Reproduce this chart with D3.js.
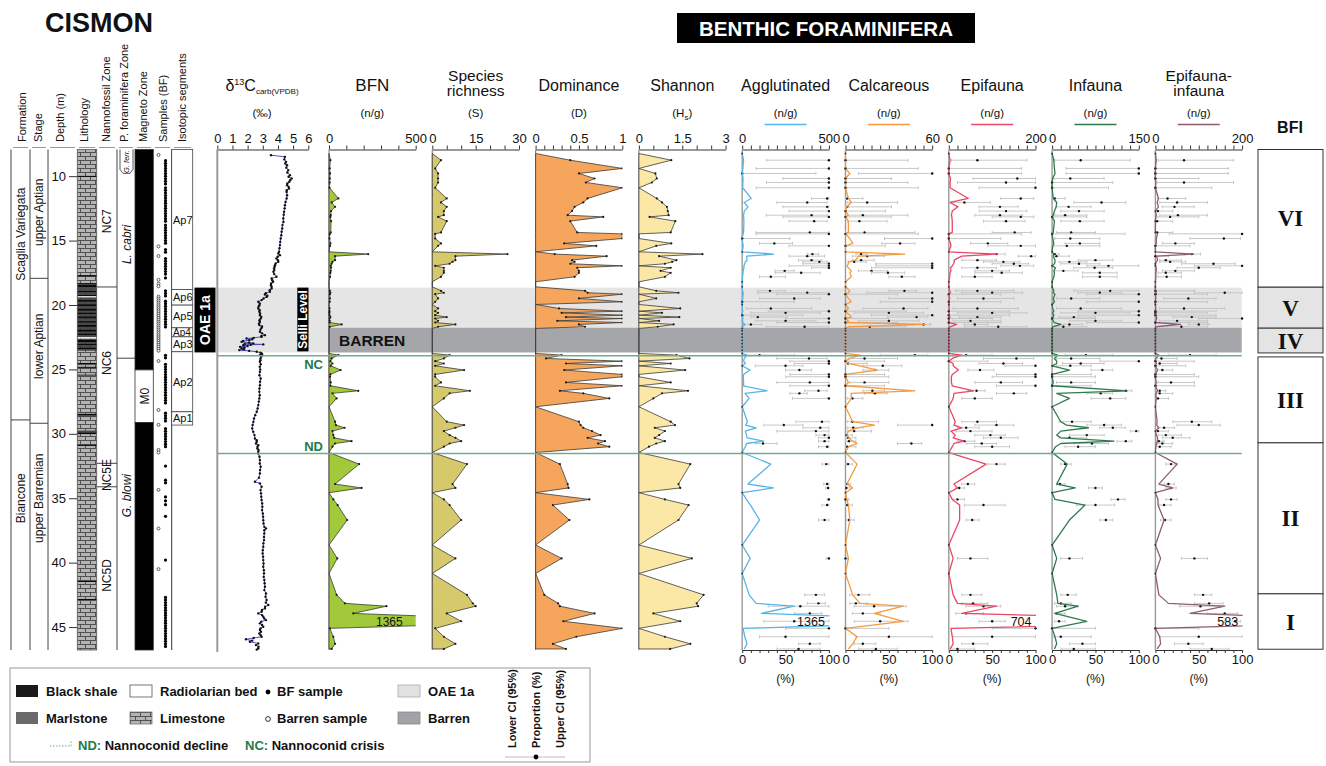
<!DOCTYPE html>
<html>
<head>
<meta charset="utf-8">
<title>Cismon – benthic foraminifera</title>
<script src="https://cdn.jsdelivr.net/npm/d3@7/dist/d3.min.js"></script>
<style>
  html, body { margin: 0; padding: 0; background: #fff; }
  svg { display: block; }
  text { font-family: Arial, "Liberation Sans", Helvetica, sans-serif; }
</style>
</head>
<body>
<svg id="chart" width="1326" height="766"></svg>
<script>
// ================= DATA =================
// BF sample depths (m) and the diversity indices measured on each sample (0 = barren)
const sampleDepth = [
  8.24, 8.76, 9.40, 9.79, 10.18, 10.49, 10.90, 11.73, 12.04, 12.38,
  12.71, 13.03, 13.16, 13.49, 14.37, 14.48, 14.84, 15.22, 15.41, 15.87,
  16.05, 16.21, 16.52, 16.65, 16.80, 16.96, 17.11, 17.35, 17.50, 17.81,
  18.20, 18.59, 18.90, 19.05, 19.16, 19.49, 19.75, 19.96, 20.27, 20.48,
  20.61, 20.79, 20.94, 21.05, 21.23, 21.36, 21.51, 21.69, 21.82, 22.00,
  22.25, 22.50, 22.75, 23.00, 23.25, 23.50, 23.76, 23.89, 24.15, 24.36,
  24.54, 24.72, 25.05, 25.39, 25.57, 26.01, 26.27, 26.66, 26.86, 27.25,
  27.90, 29.06, 29.32, 29.53, 29.79, 30.10, 30.31, 30.57, 30.75, 31.00,
  31.45, 32.35, 33.90, 34.20, 34.57, 35.09, 35.53, 36.69, 38.63, 39.67,
  40.84, 42.50, 43.16, 43.38, 43.94, 44.55, 45.10, 45.75, 46.30, 46.70];
const bfn = [
  0, 8, 4, 6, 5, 4, 3, 54, 15, 35,
  12, 10, 8, 12, 10, 5, 3, 8, 6, 0,
  226, 35, 35, 20, 15, 10, 12, 10, 8, 6,
  0, 0, 5, 8, 5, 5, 4, 0, 3, 3,
  2, 3, 8, 3, 4, 4, 73, 5, 0, 0,
  0, 0, 0, 0, 0, 0, 0, 54, 15, 8,
  20, 10, 67, 8, 6, 10, 8, 169, 20, 44,
  0, 35, 40, 90, 20, 25, 30, 130, 35, 20,
  0, 174, 35, 188, 0, 25, 50, 105, 0, 48,
  0, 44, 92, 331, 140, 1365, 5, 25, 35, 15];
const richness = [
  0, 3, 1, 2, 2, 2, 1, 5, 3, 5,
  4, 4, 2, 5, 3, 1, 1, 3, 2, 0,
  26, 8, 8, 7, 6, 1, 4, 4, 4, 3,
  0, 0, 3, 4, 1, 2, 1, 0, 2, 1,
  2, 1, 5, 1, 2, 1, 8, 2, 0, 0,
  0, 0, 0, 0, 0, 0, 0, 6, 4, 1,
  4, 1, 11, 1, 1, 3, 1, 13, 6, 4,
  0, 5, 11, 8, 4, 6, 8, 10, 6, 4,
  0, 12, 7, 8, 0, 4, 6, 10, 0, 8,
  0, 12, 14, 15, 5, 10, 1, 4, 8, 4];
const dominance = [
  0, 0.40, 1, 0.50, 0.68, 0.58, 1, 0.60, 0.55, 0.45,
  0.42, 0.37, 0.78, 0.40, 0.48, 1, 1, 0.33, 0.70, 0,
  0.22, 0.82, 0.42, 0.45, 0.40, 1, 0.48, 0.50, 0.50, 0.45,
  0, 0, 0.57, 0.60, 1, 0.50, 1, 0, 0.27, 1,
  0.30, 1, 0.35, 1, 0.25, 1, 0.50, 0.57, 0, 0,
  0, 0, 0, 0, 0, 0, 0, 0.30, 0.12, 1,
  0.35, 1, 0.33, 1, 1, 0.35, 1, 0.28, 0.55, 0.85,
  0, 0.50, 0.52, 0.55, 0.65, 0.75, 0.60, 0.80, 0.72, 0.85,
  0, 0.28, 0.37, 0.38, 0, 0.62, 0.20, 0.39, 0, 0.30,
  0, 0.10, 0.26, 0.28, 0.68, 0.32, 1, 0.47, 0.20, 0.35];
const shannon = [
  0, 1.12, 0, 0.57, 0.62, 0.45, 0, 0.62, 0.80, 0.97,
  1.00, 1.03, 0.37, 1.26, 1.10, 0, 0, 1.12, 0.60, 0,
  2.20, 0.70, 1.30, 1.15, 0.90, 0, 1.10, 0.75, 1.10, 0.90,
  0, 0, 0.60, 1.37, 0, 0.60, 0, 0, 1.43, 0,
  0.80, 0, 1.40, 0, 0.70, 0, 1.20, 0.65, 0, 0,
  0, 0, 0, 0, 0, 0, 0, 1.30, 1.75, 0,
  1.10, 0, 1.60, 0, 0, 1.10, 0, 1.70, 0.80, 0.50,
  0, 1.10, 1.25, 0.55, 0.90, 0.70, 0.55, 0.90, 0.60, 0.35,
  0, 1.78, 1.37, 1.43, 0, 0.90, 1.72, 1.37, 0, 1.83,
  0, 2.24, 2.00, 2.05, 0.50, 1.43, 0, 0.90, 1.78, 1.08];

// Abundances of the ecological groups (n/g), same samples
const agglutinatedN = [
  0, 8, 4, 1, 5, 4, 3, 52, 11, 34,
  12, 8, 8, 10, 8, 5, 0, 3, 6, 0,
  181, 26, 28, 18, 15, 10, 10, 6, 5, 2,
  0, 0, 2, 6, 5, 3, 0, 0, 1, 3,
  1, 0, 4, 3, 2, 4, 15, 3, 0, 0,
  0, 0, 0, 0, 0, 0, 0, 25, 12, 8,
  18, 0, 45, 8, 6, 8, 8, 143, 16, 40,
  0, 30, 20, 80, 18, 25, 28, 124, 25, 18,
  0, 165, 33, 180, 0, 24, 48, 100, 0, 46,
  0, 40, 80, 300, 110, 1365, 5, 15, 28, 12];
const calcareousN = [
  0, 0, 0, 3, 0, 0, 0, 2, 4, 1,
  0, 2, 0, 2, 2, 0, 3, 5, 0, 0,
  41, 9, 7, 2, 2, 1, 2, 4, 3, 4,
  0, 0, 3, 2, 0, 2, 4, 0, 2, 0,
  1, 3, 4, 0, 2, 0, 55, 2, 0, 0,
  0, 0, 0, 0, 0, 0, 0, 10, 3, 0,
  2, 10, 22, 0, 0, 2, 0, 48, 4, 4,
  0, 5, 20, 8, 2, 1, 2, 5, 8, 2,
  0, 8, 1, 5, 0, 1, 2, 3, 0, 2,
  0, 5, 10, 40, 20, 40, 0, 8, 5, 2];
const epifaunaN = [
  0, 3, 0, 0, 4, 3, 3, 45, 3, 21,
  8, 6, 7, 8, 8, 0, 0, 4, 5, 0,
  110, 30, 12, 13, 11, 8, 4, 5, 3, 2,
  0, 0, 2, 4, 0, 2, 0, 0, 1, 0,
  1, 0, 3, 0, 1, 0, 18, 3, 0, 0,
  0, 0, 0, 0, 0, 0, 0, 30, 8, 0,
  10, 10, 22, 8, 6, 6, 8, 57, 12, 10,
  0, 15, 12, 30, 5, 15, 10, 35, 12, 8,
  0, 86, 12, 20, 0, 8, 25, 25, 0, 10,
  0, 10, 20, 110, 30, 704, 5, 8, 10, 3];
const infaunaN = [
  0, 3, 4, 5, 1, 0, 0, 2, 8, 7,
  4, 2, 0, 4, 2, 0, 1, 3, 1, 0,
  3, 2, 5, 5, 4, 0, 6, 3, 4, 3,
  0, 0, 3, 2, 5, 2, 4, 0, 1, 3,
  1, 3, 2, 0, 2, 4, 15, 1, 0, 0,
  0, 0, 0, 0, 0, 0, 0, 10, 4, 8,
  8, 0, 30, 0, 0, 2, 0, 130, 8, 30,
  0, 15, 25, 63, 15, 8, 15, 107, 15, 6,
  0, 26, 8, 40, 0, 5, 57, 30, 0, 8,
  0, 8, 10, 45, 5, 60, 0, 5, 8, 4];
const epiInfaunaN = [
  0, 2, 0, 0, 0, 1, 0, 7, 4, 7,
  0, 2, 1, 0, 0, 5, 2, 2, 0, 0,
  88, 3, 5, 2, 0, 0, 2, 2, 1, 1,
  0, 0, 0, 2, 0, 1, 0, 0, 1, 0,
  0, 0, 3, 3, 1, 0, 58, 1, 0, 0,
  0, 0, 0, 0, 0, 0, 0, 8, 1, 0,
  2, 0, 5, 0, 0, 2, 0, 5, 1, 2,
  0, 4, 3, 8, 0, 2, 5, 5, 3, 1,
  0, 50, 8, 40, 0, 6, 6, 20, 0, 12,
  0, 8, 30, 160, 80, 583, 0, 10, 12, 4];

// Proportions (%) as [proportion, lower CI 95%, upper CI 95%]; null = barren sample
const N = null;
const agglutinatedPct = [
  N, [100,28,100], [100,16,100], [0,0,85], [100,47,100], [100,28,100], [100,16,100], [98,80,100], [75,40,98], [98,47,100],
  [100,54,100], [80,28,98], [100,47,100], [83,54,98], [78,16,100], [100,16,100], [0,0,55], [37,20,58], [100,54,100], N,
  [81,75,88], [75,54,95], [80,65,92], [89,70,98], [100,70,100], [100,54,100], [100,80,100], [49,38,60], [68,38,90], [33,20,50],
  N, N, [32,18,50], [75,18,100], [100,40,100], [60,20,90], [0,0,60], N, [33,5,80], [100,30,100],
  [50,10,90], [0,0,70], [18,10,52], [100,50,100], [50,15,85], [100,40,100], [10,2,22], [72,28,100], N, N,
  N, N, N, N, N, N, N, [20,5,60], [77,40,98], [100,55,100],
  [100,60,100], [50,15,70], [66,50,80], [100,55,100], [100,50,100], [78,40,100], [100,55,100], [88,72,98], [66,55,75], [100,58,100],
  N, [92,62,100], [48,25,70], [90,70,100], [85,40,100], [95,85,100], [100,88,100], [95,88,100], [24,15,40], [98,88,100],
  N, [97,92,100], [98,94,100], [99,96,100], N, [100,98,100], [98,92,100], [95,88,100], N, [100,97,100],
  N, [85,72,95], [88,75,96], [67,30,100], [78,60,92], [60,25,100], [100,50,100], [50,20,100], [78,65,90], [65,40,90]];
const calcareousPct = [
  N, [0,0,72], [0,0,84], [100,15,100], [0,0,53], [0,0,72], [0,0,84], [2,0,20], [25,2,60], [2,0,53],
  [0,0,46], [20,2,72], [0,0,53], [16,2,48], [22,0,80], [0,0,84], [100,45,100], [63,42,80], [0,0,46], N,
  [18,12,25], [25,8,45], [18,8,33], [10,3,24], [100,35,100], [100,35,100], [100,30,100], [30,15,48], [49,30,68], [65,50,80],
  N, N, [68,50,82], [100,25,100], [0,0,60], [100,50,100], [100,40,100], N, [67,20,95], [0,0,70],
  [50,10,90], [100,30,100], [82,48,95], [0,0,50], [50,15,85], [0,0,60], [90,78,98], [28,5,70], N, N,
  N, N, N, N, N, N, N, [80,40,95], [22,3,60], [0,0,45],
  [3,0,25], [43,20,65], [34,20,50], [0,0,45], [0,0,50], [22,5,50], [0,0,45], [31,20,45], [34,22,48], [8,2,20],
  N, [8,2,38], [100,60,100], [9,2,20], [10,2,30], [1,0,8], [3,0,12], [4,0,12], [76,60,88], [2,0,12],
  N, [3,1,8], [2,0,6], [1,0,5], N, [0,0,4], [2,0,8], [4,1,10], N, [0,0,3],
  N, [15,5,28], [12,5,25], [33,10,70], [20,8,40], [40,10,72], [0,0,50], [50,12,100], [20,10,35], [35,15,60]];
const epifaunaPct = [
  N, [33,3,90], [0,0,84], [0,0,84], [79,28,100], [66,10,100], [100,35,100], [83,60,98], [18,3,48], [59,35,80],
  [66,35,90], [59,30,85], [83,50,98], [66,40,88], [76,50,95], [0,0,84], [0,0,60], [45,25,68], [83,45,100], N,
  [55,45,65], [95,80,100], [33,15,55], [63,40,82], [75,50,92], [82,60,98], [33,15,55], [50,30,70], [61,30,85], [30,15,50],
  N, N, [33,8,75], [50,15,85], [0,0,60], [40,10,75], [0,0,60], N, [33,5,80], [0,0,70],
  [50,10,90], [0,0,70], [33,12,60], [0,0,50], [25,5,60], [0,0,60], [30,18,45], [57,18,90], N, N,
  N, N, N, N, N, N, N, [20,5,50], [78,40,98], [0,0,45],
  [63,35,85], [100,65,100], [36,22,52], [100,55,100], [100,50,100], [60,30,85], [100,55,100], [32,22,42], [75,55,90], [30,15,50],
  N, [33,15,55], [55,30,75], [20,10,35], [25,8,50], [48,30,65], [60,40,80], [18,10,30], [38,20,55], [50,30,70],
  N, [55,45,65], [22,15,30], [12,8,18], N, [10,5,18], [40,18,65], [27,20,35], N, [25,10,45],
  N, [25,15,38], [28,15,45], [40,20,60], [20,8,40], [50,35,65], [100,50,100], [50,5,100], [28,15,45], [10,2,30]];
const infaunaPct = [
  N, [33,3,90], [100,16,100], [100,16,100], [21,2,60], [0,0,70], [0,0,65], [3,0,15], [57,25,85], [19,5,45],
  [31,10,60], [15,3,40], [0,0,40], [32,10,60], [22,5,50], [0,0,84], [21,3,55], [32,15,55], [17,2,55], N,
  [3,1,8], [5,0,20], [50,30,70], [20,8,40], [31,10,55], [65,40,100], [49,25,70], [13,3,30], [55,35,75], [55,35,75],
  N, N, [67,25,100], [55,30,80], [100,40,100], [22,5,55], [100,40,100], N, [33,5,80], [100,30,100],
  [50,10,90], [100,30,100], [25,8,50], [0,0,50], [50,20,80], [100,40,100], [20,10,35], [13,3,40], N, N,
  N, N, N, N, N, N, N, [39,15,70], [22,5,55], [100,55,100],
  [33,12,60], [21,5,45], [58,45,70], [0,0,45], [0,0,50], [22,5,50], [0,0,45], [85,75,92], [56,40,70], [67,45,85],
  N, [23,8,45], [60,40,80], [70,55,85], [97,90,100], [40,20,60], [20,8,40], [85,75,92], [46,25,65], [30,15,50],
  N, [15,10,22], [9,5,15], [50,42,58], N, [76,68,84], [50,28,72], [62,55,70], N, [20,10,35],
  N, [18,10,28], [10,3,22], [15,5,30], [5,0,15], [8,3,15], [0,0,50], [10,2,45], [35,20,50], [25,10,50]];
const epiInfaunaPct = [
  N, [33,3,90], [0,0,84], [0,0,84], [0,0,50], [33,2,90], [0,0,65], [14,3,35], [25,5,60], [22,8,45],
  [3,0,20], [26,5,60], [17,2,50], [2,0,20], [2,0,20], [100,16,100], [79,40,98], [23,8,45], [0,0,40], N,
  [42,33,52], [0,0,15], [12,5,30], [17,5,35], [67,30,92], [100,45,100], [50,25,75], [23,8,45], [12,3,30], [13,3,30],
  N, N, [0,0,45], [80,45,100], [0,0,60], [38,10,70], [0,0,60], N, [33,5,80], [0,0,70],
  [0,0,60], [0,0,70], [42,20,70], [100,50,100], [25,5,60], [0,0,60], [50,38,62], [30,8,60], N, N,
  N, N, N, N, N, N, N, [40,15,70], [7,0,25], [0,0,45],
  [5,0,25], [0,0,35], [8,2,20], [0,0,45], [0,0,50], [18,3,45], [0,0,45], [5,2,12], [5,0,20], [3,0,15],
  N, [42,20,65], [50,25,75], [10,3,22], [3,0,15], [12,3,30], [20,8,40], [4,1,10], [8,2,20], [5,0,18],
  N, [18,12,25], [15,10,22], [18,12,24], N, [18,12,25], [10,5,18], [11,6,18], N, [45,30,60],
  N, [55,45,65], [62,45,78], [52,28,75], [80,60,95], [92,80,98], [0,0,50], [50,5,100], [38,22,55], [65,40,85]];

// Bulk-carbonate carbon isotopes: depth (m) and δ13C (‰ VPDB)
const c13Depth = [
  8.37, 8.50, 8.70, 8.89, 9.02, 9.15, 9.34, 9.53, 9.72, 9.92, 10.05, 10.18, 10.31, 10.44, 10.57, 10.70, 10.83, 10.96,
  11.09, 11.22, 11.48, 11.73, 12.00, 12.25, 12.50, 12.77, 13.00, 13.28, 13.55, 13.80, 14.06, 14.32, 14.58, 14.84,
  15.10, 15.35, 15.60, 15.87, 16.00, 16.13, 16.26, 16.39, 16.52, 16.65, 16.78, 16.91, 17.04, 17.16, 17.29, 17.42,
  17.60, 17.81, 17.94, 18.07, 18.20, 18.33, 18.46, 18.59, 18.72, 18.85, 18.98, 19.08, 19.18, 19.28, 19.37, 19.50,
  19.62, 19.75, 19.88, 20.01, 20.14, 20.27, 20.40, 20.53, 20.66, 20.79, 20.92, 21.05, 21.18, 21.31, 21.44, 21.56,
  21.67, 21.77, 21.90, 22.08, 22.20, 22.34, 22.42, 22.47, 22.55, 22.60, 22.66, 22.73, 22.80, 22.86, 22.92, 22.98,
  23.02, 23.06, 23.09, 23.12, 23.18, 23.25, 23.31, 23.37, 23.44, 23.50, 23.56, 23.63, 23.70, 23.76, 23.82, 23.89,
  24.00, 24.15, 24.28, 24.41, 24.60, 24.80, 25.00, 25.19, 25.45, 25.70, 25.96, 26.22, 26.48, 26.74, 27.00, 27.25,
  27.50, 27.77, 28.03, 28.29, 28.55, 28.81, 29.07, 29.32, 29.58, 29.84, 30.10, 30.36, 30.49, 30.62, 30.75, 30.88,
  31.00, 31.13, 31.26, 31.39, 31.52, 31.78, 32.04, 32.30, 32.56, 32.80, 33.07, 33.40, 33.72, 33.85, 34.11, 34.37,
  34.62, 34.88, 35.14, 35.40, 35.66, 35.92, 36.18, 36.44, 36.70, 36.96, 37.22, 37.34, 37.48, 37.73, 38.00, 38.25,
  38.50, 38.77, 39.03, 39.28, 39.54, 39.80, 40.06, 40.32, 40.58, 40.83, 41.10, 41.35, 41.60, 41.87, 42.13, 42.39,
  42.65, 42.90, 43.10, 43.29, 43.42, 43.55, 43.68, 43.81, 43.94, 44.07, 44.20, 44.33, 44.46, 44.58, 44.71, 44.84,
  44.97, 45.10, 45.23, 45.36, 45.49, 45.62, 45.75, 45.85, 45.95, 46.05, 46.14, 46.27, 46.40, 46.53, 46.66, 46.75];
const c13Value = [
  3.54, 4.46, 4.42, 4.53, 4.48, 4.60, 4.55, 4.68, 4.62, 4.79, 4.70, 4.90, 4.80, 4.75, 4.62, 4.60, 4.70, 4.73,
  4.58, 4.57, 4.60, 4.57, 4.50, 4.46, 4.44, 4.40, 4.38, 4.35, 4.36, 4.30, 4.28, 4.24, 4.22, 4.18,
  4.15, 4.13, 4.10, 4.07, 4.02, 4.13, 3.98, 3.90, 4.00, 4.02, 3.85, 3.80, 3.78, 3.74, 3.76, 3.70,
  3.75, 3.90, 3.58, 3.62, 3.68, 3.55, 3.54, 3.58, 3.58, 3.45, 3.47, 3.20, 3.14, 3.30, 3.25, 3.05,
  2.92, 2.70, 2.80, 2.78, 2.72, 2.70, 2.80, 2.77, 2.82, 2.81, 2.90, 2.86, 2.78, 2.81, 2.75, 2.77,
  2.95, 2.92, 2.85, 2.81, 2.95, 3.14, 2.90, 2.92, 2.40, 1.93, 2.30, 2.10, 1.70, 1.60, 2.10, 2.37,
  1.80, 3.03, 2.20, 1.71, 2.00, 1.50, 1.80, 1.60, 1.75, 1.45, 2.10, 2.60, 2.85, 2.92, 2.95, 2.81,
  2.90, 2.85, 2.84, 2.81, 2.86, 2.80, 2.83, 2.81, 2.78, 2.86, 2.82, 2.81, 2.78, 2.77, 2.80, 2.77,
  2.74, 2.70, 2.66, 2.60, 2.50, 2.42, 2.38, 2.33, 2.30, 2.37, 2.45, 2.48, 2.60, 2.60, 2.55, 2.70,
  2.65, 2.64, 2.72, 2.70, 2.70, 2.78, 2.81, 2.80, 2.86, 2.82, 2.81, 2.75, 2.48, 2.81, 2.92, 2.85,
  2.88, 2.90, 2.92, 2.96, 2.97, 2.95, 3.00, 3.02, 3.03, 3.05, 3.10, 3.21, 3.10, 3.10, 3.08, 3.08,
  3.04, 3.03, 3.00, 2.99, 3.02, 3.03, 3.05, 3.03, 3.07, 3.08, 3.06, 3.10, 3.12, 3.14, 3.10, 3.21,
  3.18, 3.25, 3.20, 3.36, 3.15, 3.14, 2.95, 2.92, 2.70, 2.95, 3.03, 3.10, 3.21, 2.90, 2.81, 2.95,
  3.03, 2.85, 2.81, 2.88, 2.77, 2.85, 2.92, 2.40, 1.89, 2.30, 2.15, 2.70, 2.55, 2.72, 2.70, 2.60];

// Samples column: productive (BF) and barren samples
const bfSampleDepth = [
  8.8, 9.0, 9.2, 9.4, 9.6, 9.8, 10.0, 10.2, 10.4, 10.6, 10.9, 11.1, 11.3, 11.5, 11.7, 11.9, 12.1, 12.3, 12.5, 12.7,
  12.9, 13.1, 13.3, 13.5, 13.8, 14.0, 14.2, 14.4, 14.6, 14.8, 15.0, 15.2, 15.7, 15.9, 16.4, 16.6, 16.8, 17.0, 17.2,
  17.4, 17.6, 17.9, 18.9, 19.1, 19.3, 19.7, 19.9, 20.1, 20.3, 20.5, 20.7, 20.9, 21.1, 21.3, 21.5, 21.7, 23.9, 24.1,
  24.6, 24.8, 25.0, 25.2, 25.4, 25.6, 25.8, 26.0, 26.2, 26.4, 26.6, 26.8, 27.0, 27.2, 27.4, 27.6, 28.4, 28.6, 28.8,
  29.0, 29.6, 29.8, 30.0, 30.2, 30.4, 30.6, 30.8, 31.0, 32.5, 33.6, 33.8, 34.9, 35.2, 35.5, 36.4, 39.8, 42.7, 42.9,
  43.1, 43.3, 43.5, 43.7, 43.9, 44.1, 44.3, 44.5, 44.7, 44.9, 45.1, 45.3, 45.5, 45.7, 45.9, 46.1, 46.3, 46.5];
const barrenSampleDepth = [
  8.35, 15.45, 16.2, 18.05, 18.35, 18.55, 19.35, 19.5, 19.65, 19.8, 19.95, 20.1, 20.25, 20.4, 20.55, 20.7, 20.85,
  21.0, 21.15, 21.3, 21.45, 21.6, 21.75, 21.9, 22.05, 22.2, 22.35, 22.5, 22.65, 22.8, 22.95, 23.1, 23.25, 23.4,
  23.55, 24.35, 28.15, 29.3, 31.25, 31.45, 34.35, 37.35, 40.5];

// Lithology beds [top, base] (m)
const blackShaleBeds = [[9.98,10.06],[17.68,17.78],[18.3,18.36],[18.45,18.62],[18.9,19.0],[19.2,19.3],[19.6,19.75],
  [19.95,20.08],[20.3,20.45],[20.6,20.72],[20.9,21.05],[21.25,21.38],[21.55,21.7],[21.9,22.08],[22.2,22.35],[22.7,22.88],
  [23.0,23.12],[23.3,23.42],[24.5,24.55],[24.8,24.86],[28.45,28.55],[29.92,30.02],[30.86,30.94],[41.42,41.5],[42.82,42.9]];
const marlstoneBeds = [[18.62,18.9],[19.0,19.2],[19.4,19.6],[19.75,19.95],[20.08,20.3],[20.45,20.6],[20.72,20.9],
  [21.05,21.25],[21.38,21.55],[21.7,21.9],[22.08,22.2],[22.35,22.5],[22.6,22.7],[22.88,23.0],[23.12,23.3],[23.42,23.55],
  [25.4,25.5],[28.55,28.7],[29.75,29.92]];
const radiolarianBeds = [[19.32,19.4],[22.5,22.6]];

// Stratigraphic frameworks: names with [top, base] depths (m)
const formationNames = ["Scaglia Variegata", "Biancone"];
const formationTop = [7.93, 28.92], formationBase = [28.92, 46.78];
const stageNames = ["upper Aptian", "lower Aptian", "upper Barremian"];
const stageTop = [7.93, 17.93, 29.18], stageBase = [17.93, 29.18, 46.78];
const nannoZones = ["NC7", "NC6", "NC5E", "NC5D"];
const nannoTop = [7.93, 18.6, 32.29, 34.11], nannoBase = [18.6, 32.29, 34.11, 46.78];
const foramZones = ["G. ferr.", "L. cabri", "G. blowi"];
const foramTop = [7.93, 9.78, 24.13], foramBase = [9.78, 24.13, 46.78];
const magnetoNames = ["", "M0", ""];
const magnetoTop = [7.93, 25.04, 29.13], magnetoBase = [25.04, 29.13, 46.78];
const magnetoNormal = [true, false, true];
const isoSegments = ["Ap7", "Ap6", "Ap5", "Ap4", "Ap3", "Ap2", "Ap1"];
const isoTop = [7.93, 18.8, 20.01, 21.77, 22.47, 23.63, 28.29];
const isoBase = [18.8, 20.01, 21.77, 22.47, 23.63, 28.29, 29.32];
const bfiNames = ["VI", "V", "IV", "III", "II", "I"];
const bfiTop = [7.93, 18.62, 21.8, 24.03, 30.7, 42.42];
const bfiBase = [18.62, 21.8, 23.72, 30.7, 42.42, 46.72];
const depthTicks = [10, 15, 20, 25, 30, 35, 40, 45];

// Events (m)
const oaeTop = 18.65, barrenTop = 21.77, oaeBase = 23.68;
const ncDepth = 23.93, ndDepth = 31.52;

// ================= LAYOUT / DRAWING =================
const yTop = 149.5, yBot = 650;
const y = d3.scaleLinear().domain([7.93, 46.78]).range([yTop, yBot]);
const svg = d3.select("#chart");
const defs = svg.append("defs");
const INK = "#111";
const GREEN_TXT = "#1f7a4a", GREEN_LINE = "#6fab90";
const SERIF = "'Liberation Serif', 'Times New Roman', Times, serif";

const pat = defs.append("pattern").attr("id", "lime").attr("patternUnits", "userSpaceOnUse")
  .attr("width", 10).attr("height", 8);
pat.append("rect").attr("width", 10).attr("height", 8).attr("fill", "#b4b4b4");
pat.append("path").attr("d", "M0,0.5H10M0,4.5H10M0.5,0.5V4.5M5.5,4.5V8")
  .attr("stroke", "#474747").attr("stroke-width", 0.9).attr("fill", "none");

function txt(g, x, yy, s, o = {}) {
  const t = g.append("text").attr("x", x).attr("y", yy).text(s)
    .attr("font-size", o.size || 12).attr("fill", o.fill || INK)
    .attr("text-anchor", o.anchor || "start");
  if (o.weight) t.attr("font-weight", o.weight);
  if (o.style) t.attr("font-style", o.style);
  if (o.family) t.style("font-family", o.family);
  return t;
}
function vtxt(g, cx, cy, s, o = {}) {
  const t = g.append("text").attr("transform", `translate(${cx},${cy}) rotate(-90)`)
    .attr("text-anchor", o.anchor || "middle").attr("dy", "0.35em")
    .attr("font-size", o.size || 12).attr("fill", o.fill || INK).text(s);
  if (o.weight) t.attr("font-weight", o.weight);
  if (o.style) t.attr("font-style", o.style);
  return t;
}
function hline(g, x1, x2, yy, col, w) {
  g.append("line").attr("x1", x1).attr("x2", x2).attr("y1", yy).attr("y2", yy)
    .attr("stroke", col || "#333").attr("stroke-width", w || 1);
}
function vline(g, xx, y1, y2, col, w) {
  g.append("line").attr("x1", xx).attr("x2", xx).attr("y1", y1).attr("y2", y2)
    .attr("stroke", col || "#333").attr("stroke-width", w || 1);
}

// ---- titles ----
txt(svg, 45, 32, "CISMON", {size: 27, weight: "bold"});
svg.append("rect").attr("x", 677).attr("y", 13).attr("width", 298).attr("height", 30).attr("fill", "#000");
txt(svg, 826, 35.5, "BENTHIC FORAMINIFERA", {size: 20.5, weight: "bold", fill: "#fff", anchor: "middle"});

// ---- left stratigraphic columns ----
const colHead = ["Formation", "Stage", "Depth (m)", "Lithology", "Nannofossil Zone", "P. foraminifera Zone",
                 "Magneto Zone", "Samples (BF)", "Isotopic segments"];
const colHeadX = [22, 38, 60, 84, 106, 124, 143, 163, 182];
const colSpan = [[11,30],[30,48],[48,77],[77,97],[97,117],[117,135],[135,153],[153,172],[172,193]];
const gL = svg.append("g");
colHead.forEach((s, i) => vtxt(gL, colHeadX[i], 142, s, {anchor: "start", size: 11}));
colSpan.forEach(s => hline(gL, s[0] + 2, s[1] - 2, 147.5, "#999", 1));

// formation & stage
[11, 30, 48].forEach(x => vline(gL, x, yTop, yBot, "#444", 1));
formationNames.forEach((n, i) => {
  if (i > 0) hline(gL, 11, 30, y(formationTop[i]), "#444");
});
vtxt(gL, 20.5, y(14.5), formationNames[0], {size: 12});
vtxt(gL, 20.5, y(35.0), formationNames[1], {size: 12});
stageNames.forEach((n, i) => { if (i > 0) hline(gL, 30, 48, y(stageTop[i]), "#444"); });
vtxt(gL, 39, y(12.8), stageNames[0], {size: 12});
vtxt(gL, 39, y(23.2), stageNames[1], {size: 12});
vtxt(gL, 39, y(35.0), stageNames[2], {size: 12});

// depth axis
const depthAxis = d3.axisLeft(y).tickValues(depthTicks).tickSize(8).tickPadding(3).tickFormat(d3.format("d"));
const gDepth = gL.append("g").attr("transform", "translate(77,0)").call(depthAxis);
gDepth.select(".domain").remove();
gDepth.selectAll(".tick line").attr("stroke", "#333");
gDepth.selectAll("text").attr("font-size", 13).attr("fill", INK);

// lithology
gL.append("rect").attr("x", 77.3).attr("y", yTop).attr("width", 19.4).attr("height", yBot - yTop)
  .attr("fill", "url(#lime)");
marlstoneBeds.forEach(b => gL.append("rect").attr("x", 77.3).attr("width", 19.4)
  .attr("y", y(b[0])).attr("height", y(b[1]) - y(b[0])).attr("fill", "#4a4a4a"));
blackShaleBeds.forEach(b => gL.append("rect").attr("x", 77.3).attr("width", 19.4)
  .attr("y", y(b[0])).attr("height", Math.max(1, y(b[1]) - y(b[0]))).attr("fill", "#0a0a0a"));
radiolarianBeds.forEach(b => gL.append("rect").attr("x", 77.3).attr("width", 19.4)
  .attr("y", y(b[0])).attr("height", y(b[1]) - y(b[0])).attr("fill", "#fff"));
gL.append("rect").attr("x", 77.3).attr("y", yTop).attr("width", 19.4).attr("height", yBot - yTop)
  .attr("fill", "none").attr("stroke", "#555").attr("stroke-width", 0.8);

// nannofossil zones
vline(gL, 117, yTop, yBot, "#444");
nannoZones.forEach((n, i) => { if (i > 0) hline(gL, 97, 117, y(nannoTop[i]), "#444"); });
const nannoLabelDepth = [13.5, 24.5, 33.2, 41.0];
nannoZones.forEach((n, i) => vtxt(gL, 107, y(nannoLabelDepth[i]), n, {size: 12}));

// planktonic foraminifera zones
gL.append("path").attr("d", `M120,${yTop} V${y(foramBase[0]) - 4} L123,${y(foramBase[0])} H130 L133,${y(foramBase[0]) - 4} V${yTop}`)
  .attr("fill", "none").attr("stroke", "#444").attr("stroke-width", 0.9);
hline(gL, 117, 135, y(foramBase[1]), "#444");
vtxt(gL, 126.5, y(8.85), foramZones[0], {size: 7.5, style: "italic"});
vtxt(gL, 127, y(15.3), foramZones[1], {size: 12, style: "italic"});
vtxt(gL, 127, y(34.8), foramZones[2], {size: 12, style: "italic"});

// magnetostratigraphy
magnetoNames.forEach((n, i) => {
  gL.append("rect").attr("x", 135).attr("width", 18.3).attr("y", y(magnetoTop[i]))
    .attr("height", y(magnetoBase[i]) - y(magnetoTop[i]))
    .attr("fill", magnetoNormal[i] ? "#000" : "#fff").attr("stroke", "#333").attr("stroke-width", 0.8);
  if (n) vtxt(gL, 144.5, (y(magnetoTop[i]) + y(magnetoBase[i])) / 2, n, {size: 12});
});

// samples
vline(gL, 171.7, yTop, yBot, "#333");
gL.selectAll(".bfs").data(bfSampleDepth).join("circle").attr("cx", 165.5).attr("cy", d => y(d))
  .attr("r", 1.6).attr("fill", "#000");
gL.selectAll(".brs").data(barrenSampleDepth).join("circle").attr("cx", 158.5).attr("cy", d => y(d))
  .attr("r", 1.5).attr("fill", "#fff").attr("stroke", "#222").attr("stroke-width", 0.7);

// isotopic segments
isoSegments.forEach((n, i) => {
  const t = y(isoTop[i]), b = y(isoBase[i]);
  gL.append("rect").attr("x", 171.7).attr("y", t).attr("width", 21).attr("height", b - t)
    .attr("fill", "#fff").attr("stroke", "#444").attr("stroke-width", 0.8);
  txt(gL, 173, (t + b) / 2 + 4, n, {size: b - t < 11 ? 10 : 11});
});

// ---- event bands (behind the data panels) ----
const xBandL = 217.3, xBandR = 1241.7;
svg.append("rect").attr("x", xBandL).attr("y", y(oaeTop)).attr("width", xBandR - xBandL)
  .attr("height", y(oaeBase) - y(oaeTop)).attr("fill", "#e5e5e5");
svg.append("rect").attr("x", 329).attr("y", y(barrenTop)).attr("width", xBandR - 329)
  .attr("height", y(oaeBase) - y(barrenTop)).attr("fill", "#a5a6a9");

// ---- generic top axis ----
function topAxis(x, ticks, labelled, fmt) {
  const ax = d3.axisTop(x).tickValues(ticks).tickSize(4).tickSizeOuter(0).tickPadding(3)
    .tickFormat(v => labelled.some(l => Math.abs(l - v) < 1e-9) ? fmt(v) : "");
  const g = svg.append("g").attr("transform", `translate(0,${yTop})`).call(ax);
  g.select(".domain").attr("stroke", "#333");
  g.selectAll(".tick line").attr("stroke", "#333");
  g.selectAll("text").attr("font-size", 13).attr("fill", INK);
  return g;
}
function header(cx, lines, unit, opts = {}) {
  if (lines.length === 1) {
    txt(svg, cx, 91, lines[0], {size: opts.size || 16, anchor: "middle"});
  } else {
    txt(svg, cx, 81, lines[0], {size: 15.5, anchor: "middle"});
    txt(svg, cx, 96, lines[1], {size: 15.5, anchor: "middle"});
  }
  if (unit) txt(svg, cx, 117, unit, {size: 11.5, anchor: "middle"});
}

// ---- δ13C panel ----
const xC = d3.scaleLinear().domain([0, 6]).range([217.3, 308.3]);
topAxis(xC, d3.range(0, 7), d3.range(0, 7), d3.format("d"));
vline(svg, 217.3, yTop, 652, "#9a9a9a", 2);
{
  const t = svg.append("text").attr("x", 262).attr("y", 91).attr("text-anchor", "middle")
    .attr("font-size", 16).attr("fill", INK);
  t.append("tspan").text("δ");
  t.append("tspan").attr("font-size", 9).attr("dy", -6).text("13");
  t.append("tspan").attr("dy", 6).text("C");
  t.append("tspan").attr("font-size", 8).attr("dy", 3).text("carb(VPDB)");
  txt(svg, 262, 117, "(‰)", {size: 11.5, anchor: "middle"});
}
const c13Idx = d3.range(c13Depth.length);
svg.append("path").datum(c13Idx)
  .attr("d", d3.line().x(i => xC(c13Value[i])).y(i => y(c13Depth[i])))
  .attr("fill", "none").attr("stroke", "#4f4fd0").attr("stroke-width", 1);
svg.append("g").selectAll("circle").data(c13Idx).join("circle")
  .attr("cx", i => xC(c13Value[i])).attr("cy", i => y(c13Depth[i])).attr("r", 1.2).attr("fill", "#111");

// ---- diversity panels (filled profiles) ----
const firstLeft = 329, pitch = 103.3, pw = 86.7;
const leftOf = k => firstLeft + k * pitch;
const rows = d3.range(sampleDepth.length);

const areaPanels = [
  {title: ["BFN"], unit: "(n/g)", max: 500, step: 100, labels: [0, 500], fmt: d3.format("d"), vals: bfn, fill: "#a2c93a", size: 17},
  {title: ["Species", "richness"], unit: "(S)", max: 30, step: 5, labels: [0, 15, 30], fmt: d3.format("d"), vals: richness, fill: "#d5c96b"},
  {title: ["Dominance"], unit: "(D)", max: 1, step: 0.1, labels: [0, 0.5, 1], fmt: v => String(+v.toFixed(1)), vals: dominance, fill: "#f6a65c"},
  {title: ["Shannon"], unit: null, max: 3, step: 0.5, labels: [0, 1.5, 3], fmt: v => String(v), vals: shannon, fill: "#fbe8a7"}
];
areaPanels.forEach((p, k) => {
  const x0 = leftOf(k), x1 = x0 + pw;
  const x = d3.scaleLinear().domain([0, p.max]).range([x0, x1]);
  const ticks = d3.range(0, p.max + p.step / 2, p.step);
  topAxis(x, ticks, p.labels, p.fmt);
  header(x0 + pw / 2, p.title, p.unit, {size: p.size});
  if (!p.unit) {
    const t = svg.append("text").attr("x", x0 + pw / 2).attr("y", 117).attr("text-anchor", "middle")
      .attr("font-size", 11.5).attr("fill", INK);
    t.append("tspan").text("(H");
    t.append("tspan").attr("font-size", 8).attr("dy", 3).text("s");
    t.append("tspan").attr("dy", -3).text(")");
  }
  const cid = "clipA" + k;
  defs.append("clipPath").attr("id", cid).append("rect")
    .attr("x", x0 - 2).attr("y", yTop - 1).attr("width", pw + 2).attr("height", yBot - yTop + 2);
  vline(svg, x0, yTop, yBot, "#8d8d8d", 1.2);
  const area = d3.area().y(i => y(sampleDepth[i])).x0(x(0)).x1(i => x(p.vals[i]));
  svg.append("path").datum(rows).attr("d", area).attr("clip-path", `url(#${cid})`)
    .attr("fill", p.fill).attr("stroke", "#3a3a3a").attr("stroke-width", 0.8).attr("stroke-linejoin", "round");
  svg.append("g").attr("clip-path", `url(#${cid})`).selectAll("circle")
    .data(rows.filter(i => p.vals[i] > 0)).join("circle")
    .attr("cx", i => x(p.vals[i])).attr("cy", i => y(sampleDepth[i])).attr("r", 1.1).attr("fill", "#1a1a1a");
  rows.filter(i => p.vals[i] > p.max).forEach(i =>
    txt(svg, x1 - 13, y(sampleDepth[i]) + 4.5, String(p.vals[i]), {size: 12, anchor: "end"}));
});

// ---- ecological group panels (abundance line + proportion with 95% CI) ----
const propPanels = [
  {title: "Agglutinated", max: 500, step: 50, counts: agglutinatedN, pct: agglutinatedPct, color: "#56b5e8"},
  {title: "Calcareous", max: 60, step: 6, counts: calcareousN, pct: calcareousPct, color: "#f59a3e"},
  {title: "Epifauna", max: 200, step: 20, counts: epifaunaN, pct: epifaunaPct, color: "#ea4763"},
  {title: "Infauna", max: 150, step: 15, counts: infaunaN, pct: infaunaPct, color: "#2f7a4e"},
  {title: ["Epifauna-", "infauna"], max: 200, step: 20, counts: epiInfaunaN, pct: epiInfaunaPct, color: "#8e5d72"}
];
propPanels.forEach((p, k) => {
  const x0 = leftOf(4 + k), x1 = x0 + pw, cxm = x0 + pw / 2;
  const cx = d3.scaleLinear().domain([0, p.max]).range([x0, x1]);
  const px = d3.scaleLinear().domain([0, 100]).range([x0, x1]);
  topAxis(cx, d3.range(0, p.max + p.step / 2, p.step), [0, p.max], d3.format("d"));
  header(cxm, Array.isArray(p.title) ? p.title : [p.title], "(n/g)");
  hline(svg, cxm - 21, cxm + 21, 124.5, p.color, 1.6);
  vline(svg, x0, yTop, yBot, "#9a9a9a", 1.4);

  // confidence intervals and proportions
  const g = svg.append("g");
  rows.filter(i => p.pct[i]).forEach(i => {
    const [v, lo, hi] = p.pct[i], yy = y(sampleDepth[i]);
    hline(g, px(lo), px(hi), yy, "#c2c2c2", 0.9);
    vline(g, px(lo), yy - 1.5, yy + 1.5, "#c2c2c2", 0.9);
    vline(g, px(hi), yy - 1.5, yy + 1.5, "#c2c2c2", 0.9);
    g.append("circle").attr("cx", px(v)).attr("cy", yy).attr("r", 1.2).attr("fill", "#111");
  });

  // abundance curve
  const cid = "clipP" + k;
  defs.append("clipPath").attr("id", cid).append("rect")
    .attr("x", x0 - 2).attr("y", yTop - 1).attr("width", pw + 2.5).attr("height", yBot - yTop + 2);
  svg.append("path").datum(rows).attr("clip-path", `url(#${cid})`)
    .attr("d", d3.line().x(i => cx(p.counts[i])).y(i => y(sampleDepth[i])))
    .attr("fill", "none").attr("stroke", p.color).attr("stroke-width", 1.3).attr("stroke-linejoin", "round");
  svg.append("g").selectAll("circle").data(rows.filter(i => p.counts[i] === 0)).join("circle")
    .attr("cx", x0).attr("cy", i => y(sampleDepth[i])).attr("r", 0.9).attr("fill", "#333");
  rows.filter(i => p.counts[i] > p.max).forEach(i =>
    txt(svg, x1 - 4, y(sampleDepth[i]) + 4.5, String(p.counts[i]), {size: 12.5, anchor: "end"}));

  // percentage axis
  const ax = d3.axisBottom(px).tickValues(d3.range(0, 101, 10)).tickSize(3).tickSizeOuter(0).tickPadding(2)
    .tickFormat(v => (v % 50 === 0 ? String(v) : ""));
  const ga = svg.append("g").attr("transform", `translate(0,${yBot})`).call(ax);
  ga.select(".domain").attr("stroke", "#333");
  ga.selectAll(".tick line").attr("stroke", "#333");
  ga.selectAll("text").attr("font-size", 13).attr("fill", INK);
  txt(svg, cxm, 683, "(%)", {size: 12, anchor: "middle"});
});

// ---- event lines and labels ----
hline(svg, xBandL, xBandR, y(ncDepth), GREEN_LINE, 1.5);
hline(svg, xBandL, xBandR, y(ndDepth), GREEN_LINE, 1.5);
txt(svg, 323, y(ncDepth) + 13, "NC", {size: 13, weight: "bold", fill: GREEN_TXT, anchor: "end"});
txt(svg, 323, y(ndDepth) - 2.5, "ND", {size: 13, weight: "bold", fill: GREEN_TXT, anchor: "end"});

svg.append("rect").attr("x", 297.3).attr("y", y(oaeTop)).attr("width", 11.2).attr("height", y(23.6) - y(oaeTop)).attr("fill", "#000");
vtxt(svg, 303, (y(oaeTop) + y(23.6)) / 2, "Selli Level", {size: 12, weight: "bold", fill: "#fff"});
svg.append("rect").attr("x", 194.5).attr("y", y(oaeTop)).attr("width", 21).attr("height", y(oaeBase) - y(oaeTop)).attr("fill", "#000");
vtxt(svg, 205, (y(oaeTop) + y(oaeBase)) / 2, "OAE 1a", {size: 14, weight: "bold", fill: "#fff"});
txt(svg, 339, (y(barrenTop) + y(oaeBase)) / 2 + 5.5, "BARREN", {size: 15.5, weight: "bold"});

// ---- BFI column ----
txt(svg, 1290, 133, "BFI", {size: 16, weight: "bold", anchor: "middle"});
bfiNames.forEach((n, i) => {
  const t = y(bfiTop[i]), b = y(bfiBase[i]);
  const shaded = n === "V" || n === "IV";
  svg.append("rect").attr("x", 1258).attr("y", t).attr("width", 65).attr("height", b - t)
    .attr("fill", shaded ? "#e4e4e4" : "#fff").attr("stroke", "#333").attr("stroke-width", 1);
  txt(svg, 1290.5, (t + b) / 2 + 8, n, {size: 23, weight: "bold", anchor: "middle", family: SERIF});
});

// ---- legend ----
const gLeg = svg.append("g");
gLeg.append("rect").attr("x", 10).attr("y", 668).attr("width", 580).attr("height", 94)
  .attr("fill", "#fff").attr("stroke", "#999").attr("stroke-width", 1);
const sw = (x, yy, fill, stroke) => gLeg.append("rect").attr("x", x).attr("y", yy).attr("width", 22).attr("height", 12)
  .attr("fill", fill).attr("stroke", stroke || "none").attr("stroke-width", 0.8);
const L = {size: 13, weight: "bold"};
sw(16, 685, "#1a1a1a"); txt(gLeg, 46, 696, "Black shale", L);
sw(130, 685, "#fff", "#555"); txt(gLeg, 160, 696, "Radiolarian bed", L);
gLeg.append("circle").attr("cx", 268).attr("cy", 692).attr("r", 2.4).attr("fill", "#000");
txt(gLeg, 277, 696, "BF sample", L);
sw(398, 685, "#e2e2e2", "#aaa"); txt(gLeg, 428, 696, "OAE 1a", L);
sw(16, 712, "#6a6a6a"); txt(gLeg, 46, 723, "Marlstone", L);
sw(130, 712, "url(#lime)", "#777"); txt(gLeg, 160, 723, "Limestone", L);
gLeg.append("circle").attr("cx", 268).attr("cy", 719).attr("r", 2.4).attr("fill", "#fff").attr("stroke", "#000").attr("stroke-width", 0.8);
txt(gLeg, 277, 723, "Barren sample", L);
sw(398, 712, "#a2a3a6", "#888"); txt(gLeg, 428, 723, "Barren", L);
gLeg.append("path").attr("d", "M50,746 H71 V741").attr("fill", "none").attr("stroke", GREEN_LINE)
  .attr("stroke-width", 1).attr("stroke-dasharray", "1.5,1.5");
{
  const t = gLeg.append("text").attr("x", 78).attr("y", 750).attr("font-size", 13).attr("font-weight", "bold");
  t.append("tspan").attr("fill", GREEN_TXT).text("ND:");
  t.append("tspan").attr("fill", INK).text(" Nannoconid decline");
  const t2 = gLeg.append("text").attr("x", 245).attr("y", 750).attr("font-size", 13).attr("font-weight", "bold");
  t2.append("tspan").attr("fill", GREEN_TXT).text("NC:");
  t2.append("tspan").attr("fill", INK).text(" Nannoconid crisis");
}
["Lower CI (95%)", "Proportion (%)", "Upper CI (95%)"].forEach((s, i) =>
  vtxt(gLeg, 512 + i * 24, 748, s, {anchor: "start", size: 11, weight: "bold"}));
hline(gLeg, 505, 565, 757, "#bbb", 1);
gLeg.append("circle").attr("cx", 536).attr("cy", 757).attr("r", 2.4).attr("fill", "#000");
</script>
</body>
</html>
